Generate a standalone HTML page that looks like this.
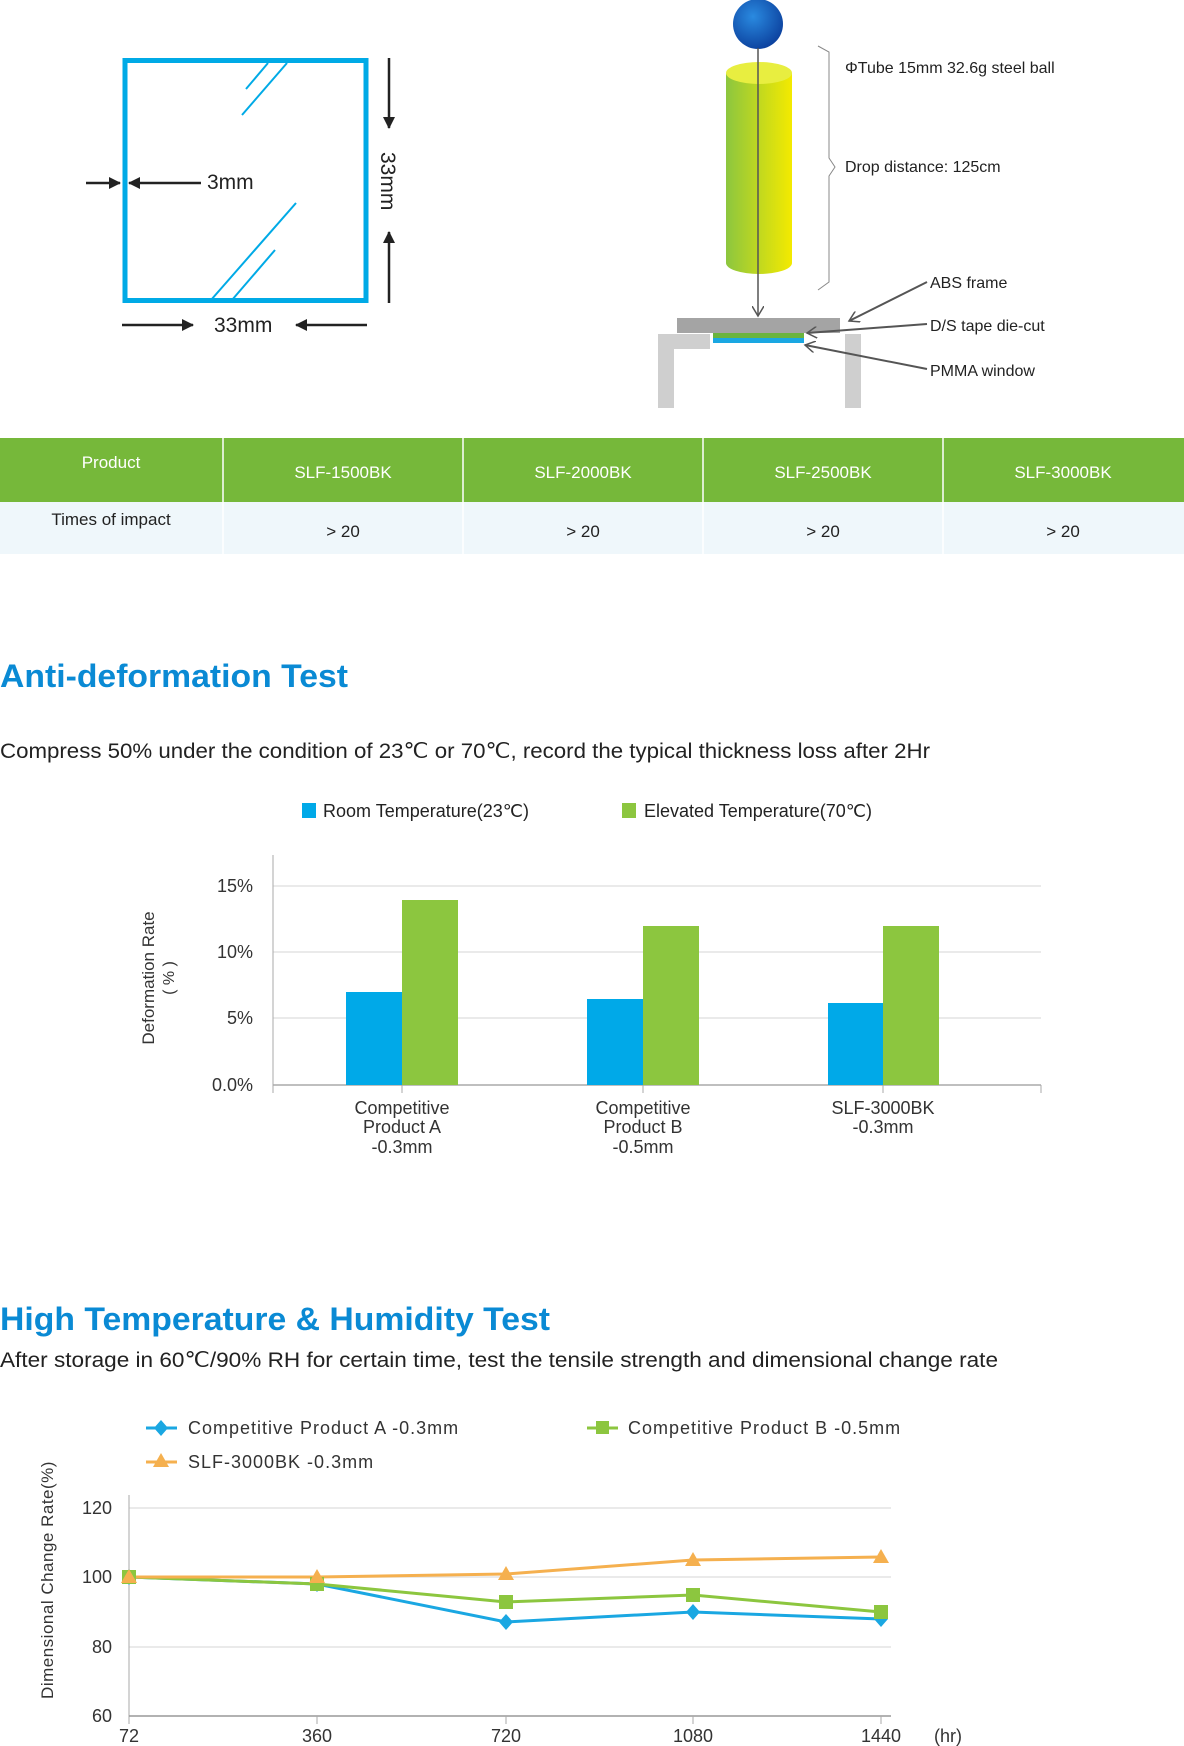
<!DOCTYPE html>
<html><head><meta charset="utf-8"><style>
html,body{margin:0;padding:0;background:#fff;}
svg{display:block;font-family:"Liberation Sans",Arial,sans-serif;}
</style></head><body>
<svg width="1184" height="1746" viewBox="0 0 1184 1746" xmlns="http://www.w3.org/2000/svg">
<defs>
<linearGradient id="tube" x1="0" x2="1" y1="0" y2="0"><stop offset="0" stop-color="#8cc63f"/><stop offset="1" stop-color="#f4ea00"/></linearGradient>
<radialGradient id="ball" cx="0.4" cy="0.35" r="0.7"><stop offset="0" stop-color="#2a8ae0"/><stop offset="1" stop-color="#0b3f9c"/></radialGradient>
<marker id="ah" markerWidth="12" markerHeight="12" refX="11" refY="6" orient="auto" markerUnits="userSpaceOnUse"><path d="M0,0 L12,6 L0,12 z" fill="#222"/></marker>
<marker id="ah2" markerWidth="12" markerHeight="12" refX="10" refY="6" orient="auto" markerUnits="userSpaceOnUse"><path d="M0,0 L10,6 L0,12" fill="none" stroke="#555" stroke-width="1.5"/></marker>
</defs>
<!-- square diagram -->
<rect x="125" y="60.5" width="241" height="240" fill="none" stroke="#00aae6" stroke-width="5"/>
<g stroke="#00aae6" stroke-width="2">
<line x1="242" y1="115" x2="287" y2="63"/><line x1="246" y1="89" x2="268" y2="63"/>
<line x1="211" y1="300" x2="296" y2="203"/><line x1="232" y1="300" x2="275" y2="250"/>
</g>
<g stroke="#222" stroke-width="2.5" fill="none">
<line x1="389" y1="58" x2="389" y2="128" marker-end="url(#ah)"/>
<line x1="389" y1="303" x2="389" y2="232" marker-end="url(#ah)"/>
<line x1="86" y1="183" x2="120" y2="183" marker-end="url(#ah)"/>
<line x1="201" y1="183" x2="129" y2="183" marker-end="url(#ah)"/>
<line x1="122" y1="325" x2="193" y2="325" marker-end="url(#ah)"/>
<line x1="367" y1="325" x2="296" y2="325" marker-end="url(#ah)"/>
</g>
<text x="207" y="189" font-size="21" fill="#222">3mm</text>
<text x="214" y="332" font-size="21" fill="#222">33mm</text>
<text transform="translate(381,152) rotate(90)" font-size="21" fill="#222">33mm</text>
<!-- drop test diagram -->
<rect x="726" y="73" width="66" height="190" fill="url(#tube)"/>
<ellipse cx="759" cy="73" rx="33" ry="11" fill="#e8ee40"/>
<ellipse cx="759" cy="263" rx="33" ry="11" fill="url(#tube)"/>
<ellipse cx="758" cy="24" rx="25" ry="25" fill="url(#ball)"/>
<line x1="758" y1="48" x2="758" y2="316" stroke="#555" stroke-width="1.5" marker-end="url(#ah2)"/>
<path d="M818,46 L829,52 L829,158 L835,167 L829,176 L829,282 L818,290" fill="none" stroke="#888" stroke-width="1"/>
<text x="845" y="73" font-size="16" fill="#222">ΦTube 15mm 32.6g steel ball</text>
<text x="845" y="172" font-size="16" fill="#222">Drop distance: 125cm</text>
<rect x="677" y="318" width="163" height="15" fill="#a4a4a4"/>
<rect x="713" y="333" width="91" height="5" fill="#6ab43e"/>
<rect x="713" y="338" width="91" height="5" fill="#1aa7e2"/>
<path d="M658,334 L710,334 L710,349 L674,349 L674,408 L658,408 z" fill="#cfcfcf"/>
<rect x="845" y="334" width="16" height="74" fill="#cfcfcf"/>
<g stroke="#555" stroke-width="2">
<line x1="927" y1="282" x2="849" y2="321" marker-end="url(#ah2)"/>
<line x1="927" y1="324" x2="807" y2="333" marker-end="url(#ah2)"/>
<line x1="927" y1="369" x2="805" y2="345" marker-end="url(#ah2)"/>
</g>
<text x="930" y="288" font-size="16" fill="#222">ABS frame</text>
<text x="930" y="331" font-size="16" fill="#222">D/S tape die-cut</text>
<text x="930" y="376" font-size="16" fill="#222">PMMA window</text>
<!-- table -->
<rect x="0" y="438" width="1184" height="64" fill="#76b83a"/>
<rect x="0" y="502" width="1184" height="52" fill="#eff7fb"/>
<g stroke="#fff" stroke-width="1.5"><line x1="223" y1="438" x2="223" y2="554"/><line x1="463" y1="438" x2="463" y2="554"/><line x1="703" y1="438" x2="703" y2="554"/><line x1="943" y1="438" x2="943" y2="554"/></g>
<g font-size="17" fill="#fff" text-anchor="middle">
<text x="111" y="468">Product</text>
<text x="343" y="478">SLF-1500BK</text><text x="583" y="478">SLF-2000BK</text><text x="823" y="478">SLF-2500BK</text><text x="1063" y="478">SLF-3000BK</text>
</g>
<g font-size="17" fill="#222" text-anchor="middle">
<text x="111" y="525">Times of impact</text>
<text x="343" y="537">&gt; 20</text><text x="583" y="537">&gt; 20</text><text x="823" y="537">&gt; 20</text><text x="1063" y="537">&gt; 20</text>
</g>
<!-- Anti-deformation -->
<text x="0" y="687" font-size="32" font-weight="bold" fill="#0a8ad4" textLength="348" lengthAdjust="spacingAndGlyphs">Anti-deformation Test</text>
<text x="0" y="758" font-size="21" fill="#222" textLength="930" lengthAdjust="spacingAndGlyphs">Compress 50% under the condition of 23℃ or 70℃, record the typical thickness loss after 2Hr</text>
<rect x="302" y="803" width="14" height="15" fill="#00a9e8"/>
<text x="323" y="817" font-size="18" fill="#222">Room Temperature(23℃)</text>
<rect x="622" y="803" width="14" height="15" fill="#8cc63f"/>
<text x="644" y="817" font-size="18" fill="#222">Elevated Temperature(70℃)</text>
<g stroke="#e4e4e4" stroke-width="1.5"><line x1="273" y1="886" x2="1041" y2="886"/><line x1="273" y1="952" x2="1041" y2="952"/><line x1="273" y1="1018" x2="1041" y2="1018"/></g>
<line x1="273" y1="855" x2="273" y2="1093" stroke="#aaa" stroke-width="1"/>
<line x1="273" y1="1085" x2="1041" y2="1085" stroke="#aaa" stroke-width="1.5"/>
<g stroke="#aaa"><line x1="402" y1="1085" x2="402" y2="1093"/><line x1="643" y1="1085" x2="643" y2="1093"/><line x1="883" y1="1085" x2="883" y2="1093"/><line x1="1041" y1="1085" x2="1041" y2="1093"/></g>
<g font-size="18" fill="#333" text-anchor="end">
<text x="253" y="892">15%</text><text x="253" y="958">10%</text><text x="253" y="1024">5%</text><text x="253" y="1091">0.0%</text>
</g>
<rect x="346" y="992" width="56" height="93" fill="#00a9e8"/><rect x="402" y="900" width="56" height="185" fill="#8cc63f"/>
<rect x="587" y="999" width="56" height="86" fill="#00a9e8"/><rect x="643" y="926" width="56" height="159" fill="#8cc63f"/>
<rect x="828" y="1003" width="55" height="82" fill="#00a9e8"/><rect x="883" y="926" width="56" height="159" fill="#8cc63f"/>
<g font-size="18" fill="#333" text-anchor="middle">
<text x="402" y="1114">Competitive</text><text x="402" y="1133">Product A</text><text x="402" y="1153">-0.3mm</text>
<text x="643" y="1114">Competitive</text><text x="643" y="1133">Product B</text><text x="643" y="1153">-0.5mm</text>
<text x="883" y="1114">SLF-3000BK</text><text x="883" y="1133">-0.3mm</text>
</g>
<text transform="translate(154,978) rotate(-90)" font-size="17" fill="#333" text-anchor="middle">Deformation Rate</text>
<text transform="translate(174,978) rotate(-90)" font-size="16" fill="#333" text-anchor="middle">( % )</text>
<!-- High temp -->
<text x="0" y="1330" font-size="32" font-weight="bold" fill="#0a8ad4" textLength="550" lengthAdjust="spacingAndGlyphs">High Temperature &amp; Humidity Test</text>
<text x="0" y="1367" font-size="21" fill="#222" textLength="998" lengthAdjust="spacingAndGlyphs">After storage in 60℃/90% RH for certain time, test the tensile strength and dimensional change rate</text>
<line x1="146" y1="1428" x2="177" y2="1428" stroke="#1aa7e2" stroke-width="3"/><path d="M161,1420 L168,1428 L161,1436 L154,1428 z" fill="#1aa7e2"/>
<text x="188" y="1434" font-size="18" fill="#333" letter-spacing="1">Competitive Product A -0.3mm</text>
<line x1="587" y1="1428" x2="618" y2="1428" stroke="#8cc63f" stroke-width="3"/><rect x="596" y="1421" width="13" height="13" fill="#8cc63f"/>
<text x="628" y="1434" font-size="18" fill="#333" letter-spacing="1">Competitive Product B -0.5mm</text>
<line x1="146" y1="1462" x2="177" y2="1462" stroke="#f5b04f" stroke-width="3"/><path d="M161,1453 L169,1467 L153,1467 z" fill="#f5b04f"/>
<text x="188" y="1468" font-size="18" fill="#333" letter-spacing="1">SLF-3000BK  -0.3mm</text>
<g stroke="#e4e4e4" stroke-width="1.5"><line x1="129" y1="1508" x2="891" y2="1508"/><line x1="129" y1="1577" x2="891" y2="1577"/><line x1="129" y1="1647" x2="891" y2="1647"/></g>
<line x1="129" y1="1495" x2="129" y2="1724" stroke="#aaa"/>
<line x1="129" y1="1716" x2="891" y2="1716" stroke="#999" stroke-width="1.5"/>
<g stroke="#aaa"><line x1="317" y1="1716" x2="317" y2="1724"/><line x1="506" y1="1716" x2="506" y2="1724"/><line x1="693" y1="1716" x2="693" y2="1724"/><line x1="881" y1="1716" x2="881" y2="1724"/></g>
<g font-size="18" fill="#333" text-anchor="end"><text x="112" y="1514">120</text><text x="112" y="1583">100</text><text x="112" y="1653">80</text><text x="112" y="1722">60</text></g>
<g font-size="18" fill="#333" text-anchor="middle"><text x="129" y="1742">72</text><text x="317" y="1742">360</text><text x="506" y="1742">720</text><text x="693" y="1742">1080</text><text x="881" y="1742">1440</text><text x="948" y="1742">(hr)</text></g>
<text transform="translate(53,1580) rotate(-90)" font-size="17" fill="#333" text-anchor="middle" letter-spacing="0.5">Dimensional Change Rate(%)</text>
<polyline points="129,1577 317,1584 506,1622 693,1612 881,1619" fill="none" stroke="#1aa7e2" stroke-width="3"/>
<polyline points="129,1577 317,1584 506,1602 693,1595 881,1612" fill="none" stroke="#8cc63f" stroke-width="3"/>
<polyline points="129,1577 317,1577 506,1574 693,1560 881,1557" fill="none" stroke="#f5b04f" stroke-width="3"/>
<g fill="#1aa7e2"><path d="M129,1569 L136,1577 L129,1585 L122,1577z"/><path d="M317,1576 L324,1584 L317,1592 L310,1584z"/><path d="M506,1614 L513,1622 L506,1630 L499,1622z"/><path d="M693,1604 L700,1612 L693,1620 L686,1612z"/><path d="M881,1611 L888,1619 L881,1627 L874,1619z"/></g>
<g fill="#8cc63f"><rect x="122" y="1570" width="14" height="14"/><rect x="310" y="1577" width="14" height="14"/><rect x="499" y="1595" width="14" height="14"/><rect x="686" y="1588" width="14" height="14"/><rect x="874" y="1605" width="14" height="14"/></g>
<g fill="#f5b04f"><path d="M129,1569 L137,1583 L121,1583z"/><path d="M317,1569 L325,1583 L309,1583z"/><path d="M506,1566 L514,1580 L498,1580z"/><path d="M693,1552 L701,1566 L685,1566z"/><path d="M881,1549 L889,1563 L873,1563z"/></g>
</svg>
</body></html>
